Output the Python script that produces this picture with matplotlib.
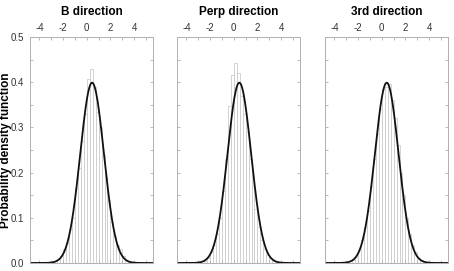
import numpy as np
import matplotlib
matplotlib.use('Agg')
import matplotlib.pyplot as plt

plt.rcParams['font.family'] = 'Liberation Sans'

# Histogram bins (shared) and bar heights
bin_edges = np.arange(-2.5, 3.51, 0.25)
titles = ['B direction', 'Perp direction', '3rd direction']

b_heights = [0.008, 0.015, 0.03, 0.045, 0.075, 0.10, 0.165, 0.21, 0.27, 0.33, 0.407, 0.43,
             0.39, 0.335, 0.30, 0.24, 0.19, 0.14, 0.09, 0.06, 0.04, 0.03, 0.015, 0.005]
perp_heights = [0.005, 0.012, 0.025, 0.04, 0.065, 0.10, 0.16, 0.23, 0.347, 0.416, 0.442, 0.42,
                0.37, 0.33, 0.29, 0.23, 0.17, 0.12, 0.08, 0.05, 0.03, 0.018, 0.01, 0.004]
third_heights = [0.006, 0.014, 0.028, 0.05, 0.08, 0.115, 0.17, 0.23, 0.285, 0.34, 0.385, 0.39,
                 0.395, 0.36, 0.32, 0.26, 0.20, 0.15, 0.10, 0.065, 0.04, 0.025, 0.012, 0.006]

# fitted normal distribution parameters (mean, sigma)
fit_mean = [0.45, 0.47, 0.42]
fit_sigma = [1.0, 1.0, 1.0]

fig = plt.figure(figsize=(4.54, 2.71), dpi=100)
lefts = [30 / 454, 177 / 454, 325 / 454]
width = 123 / 454
bottom = 1 - 263 / 271
height = 226 / 271

grey = '#b0b0b0'
x = np.linspace(-4.8, 5.6, 400)

for i, heights in enumerate([b_heights, perp_heights, third_heights]):
    ax = fig.add_axes([lefts[i], bottom, width, height])
    ax.bar(bin_edges[:-1], heights, width=0.25, align='edge', color='white',
           edgecolor='#cccccc', linewidth=0.6)
    pdf = np.exp(-0.5 * ((x - fit_mean[i]) / fit_sigma[i]) ** 2) / (fit_sigma[i] * np.sqrt(2 * np.pi))
    ax.plot(x, pdf, color='#111111', linewidth=1.3)

    ax.set_xlim(-4.8, 5.6)
    ax.set_ylim(0, 0.5)
    ax.set_xticks([-4, -2, 0, 2, 4])
    ax.set_xticks(np.arange(-4, 5.1, 1), minor=True)
    ax.set_yticks(np.arange(0, 0.51, 0.1))
    ax.set_yticks(np.arange(0, 0.51, 0.05), minor=True)
    ax.xaxis.tick_top()
    ax.tick_params(axis='x', which='both', direction='in', top=True, bottom=True,
                   labeltop=True, labelbottom=False, color=grey, length=2.5, width=0.6,
                   labelsize=7, pad=3, labelcolor='#333333')
    ax.tick_params(axis='y', which='both', direction='in', left=True, right=True,
                   color=grey, length=2.5, width=0.6, labelsize=7, pad=4,
                   labelcolor='#333333')
    ax.set_xticklabels(['-4', '-2', '0', '2', '4'])
    if i == 0:
        ax.set_yticklabels(['0.0', '0.1', '0.2', '0.3', '0.4', '0.5'])
        ax.set_ylabel('Probability density function', fontsize=8.5, fontweight='bold')
        ax.yaxis.set_label_coords(-0.15, 0.5)
    else:
        ax.set_yticklabels([])
    for spine in ax.spines.values():
        spine.set_color(grey)
        spine.set_linewidth(0.7)
    ax.set_title(titles[i], fontsize=8.5, fontweight='bold', pad=16)

fig.savefig('out.png', dpi=100)
